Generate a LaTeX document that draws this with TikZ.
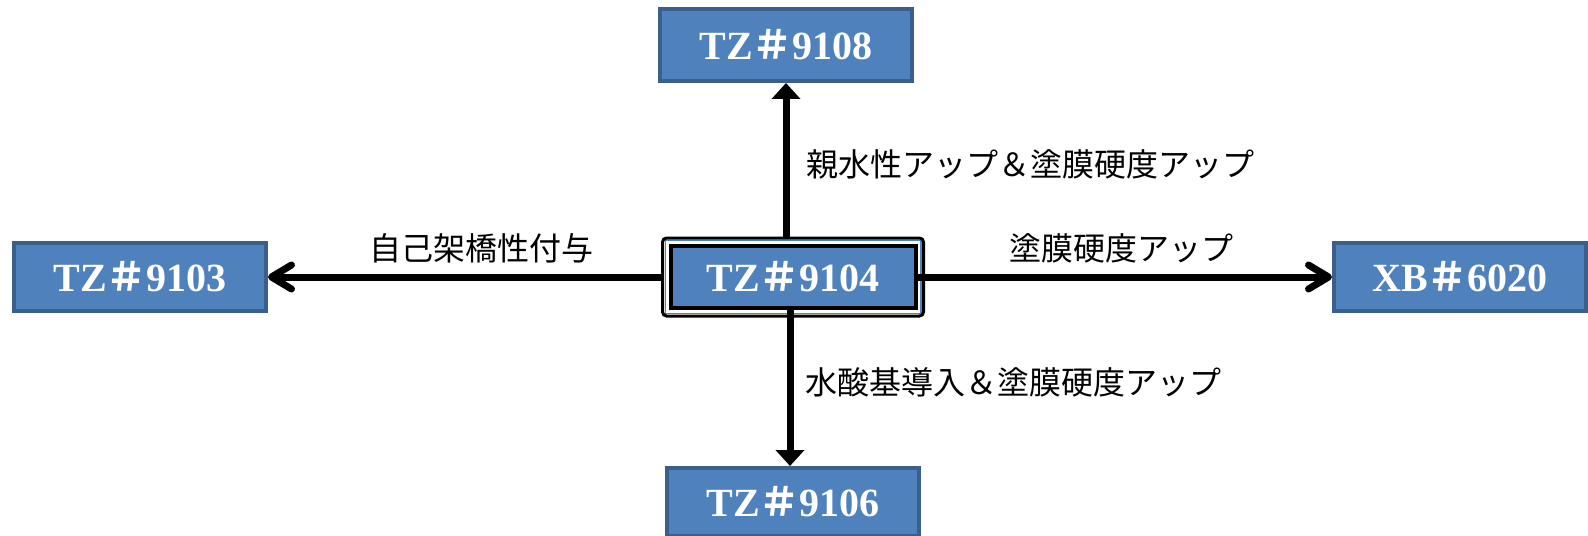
\documentclass[tikz,border=0pt]{standalone}
\usepackage{fontspec}
\setmainfont{Liberation Serif}
\newfontfamily\jpfont{Noto Sans CJK JP}
\usepackage{xcolor}
\usepackage{tikz}
\usetikzlibrary{arrows.meta,fit}

\definecolor{boxblue}{HTML}{4F81BD}
\definecolor{boxedge}{HTML}{3A5F8D}

\newcommand{\sharpj}{{\jpfont ＃}}

\begin{document}
\begin{tikzpicture}[x=0.5pt,y=-0.5pt,
    box/.style={draw=boxedge, fill=boxblue, line width=2pt, minimum width=126pt, minimum height=34pt,
      inner sep=0pt, text=white, font=\bfseries\fontsize{20}{24}\selectfont},
    lbl/.style={inner sep=0pt, font=\jpfont\fontsize{16}{19}\selectfont},
    harr/.style={line width=3.5pt, -{Straight Barb[length=10pt,width=12pt,round]}},
    varr/.style={line width=3.5pt, -{Triangle[length=8pt,width=14pt]}}]
    \useasboundingbox (0,0) rectangle (1588,535);

    % centre box with its double frame
    \node[box, draw=black, minimum width=122.5pt, minimum height=31pt] (tz9104) at (793,277) {TZ\sharpj9104};
    \node[fit=(tz9104), inner sep=1.7pt, draw=boxblue, line width=0.6pt] (tz9104in) {};
    \node[fit=(tz9104), inner sep=3pt, draw=black, line width=1.5pt, rounded corners=2pt] (tz9104out) {};

    \node[box] (tz9103) at (140,277) {TZ\sharpj9103};
    \node[box] (xb6020) at (1460,277) {XB\sharpj6020};
    \node[box, minimum height=36pt] (tz9108) at (786,45) {TZ\sharpj9108};
    \node[box] (tz9106) at (793,502) {TZ\sharpj9106};

    \draw[harr] (tz9104out.west) -- node[lbl, above=5pt, xshift=8.5pt] (lblcross) {自己架橋性付与} (tz9103);
    \draw[harr] (tz9104.east) -- node[lbl, above=5pt, xshift=-1.5pt] (lblhard) {塗膜硬度アップ} (xb6020);
    \draw[varr] (tz9104out.north -| tz9108) -- node[lbl, right=8.5pt, yshift=-2.5pt] (lblhydro) {親水性アップ＆塗膜硬度アップ} (tz9108);
    \draw[varr] (tz9104.south -| 790,0) -- node[lbl, right=6pt, yshift=3pt] (lblhydroxy) {水酸基導入＆塗膜硬度アップ} (tz9106.north -| 790,0);
\end{tikzpicture}
\end{document}
